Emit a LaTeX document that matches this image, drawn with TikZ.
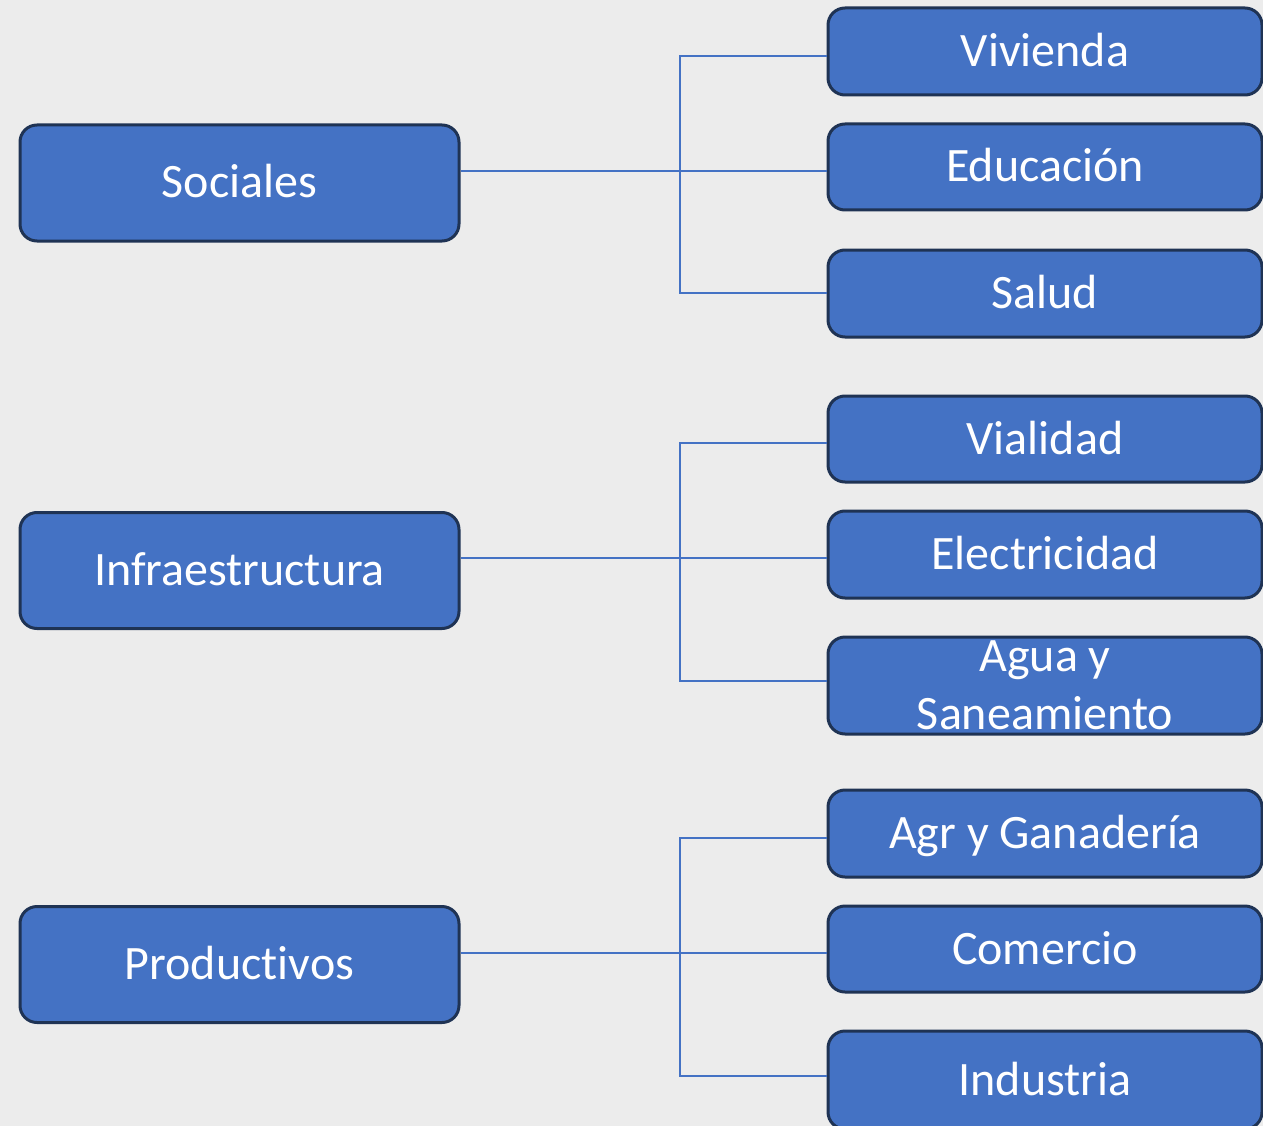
\documentclass[tikz,border=0pt]{standalone}
\usepackage{fontspec}
\setmainfont[Ligatures=NoCommon]{Carlito}
\usetikzlibrary{positioning}
\definecolor{boxblue}{HTML}{4472C4}
\definecolor{boxedge}{HTML}{1F3354}
\definecolor{bggray}{HTML}{ECECEC}
\tikzset{
	groupbox/.style={rectangle, rounded corners=17pt, fill=boxblue, draw=boxedge, line width=3pt, text=white, minimum width=439pt, minimum height=116pt, inner sep=0pt, font=\fontsize{48}{58}\selectfont, text height=30pt, text depth=0pt, align=center},
	itembox/.style={groupbox, minimum width=434pt, minimum height=87pt},
	link/.style={draw=boxblue, line width=1.3pt}
}

\begin{document}
\begin{tikzpicture}[x=1pt,y=-1pt]
	\useasboundingbox (0,0) rectangle (1263,1126);
	\clip (0,0) rectangle (1263,1126);
	\fill[bggray] (0,0) rectangle (1263,1126);
	% main groups
	\node[groupbox] (soc) at (239.5,183) {Sociales};
	\node[groupbox] (inf) at (239.5,570.5) {Infraestructura};
	\node[groupbox] (pro) at (239.5,964.5) {Productivos};
	% sub items
	\foreach \name/\y/\h/\th/\txt in {viv/51.5/87/30/{Vivienda}, edu/167/86/30/{Educación}, sal/293.5/87/30/{Salud}, via/439/86/30/{Vialidad}, ele/554.5/87/30/{Electricidad}, agu/685.5/97/88/{Agua y\\Saneamiento}, agr/833.5/87/30/{Agr y Ganadería}, com/949/86/30/{Comercio}, ind/1080/98/30/{Industria}}
	{
		\node[itembox, minimum height=\h pt, text height=\th pt] (\name) at (1045,\y) {\txt};
	}
	% branches
	\foreach \parent/\ya/\yb/\yc/\ca/\cb/\cc in {soc/56/171/293/viv/edu/sal, inf/443/558/681/via/ele/agu, pro/838/953/1076/agr/com/ind}
	{
		\coordinate (\parent top) at (680,\ya);
		\coordinate (\parent mid) at (680,\yb);
		\coordinate (\parent bot) at (680,\yc);
		\draw[link] (\parent.east |- \parent mid) -- (\cb.west |- \parent mid);
		\draw[link] (\ca.west |- \parent top) -- (\parent top) -- (\parent bot) -- (\cc.west |- \parent bot);
	}
\end{tikzpicture}
\end{document}
